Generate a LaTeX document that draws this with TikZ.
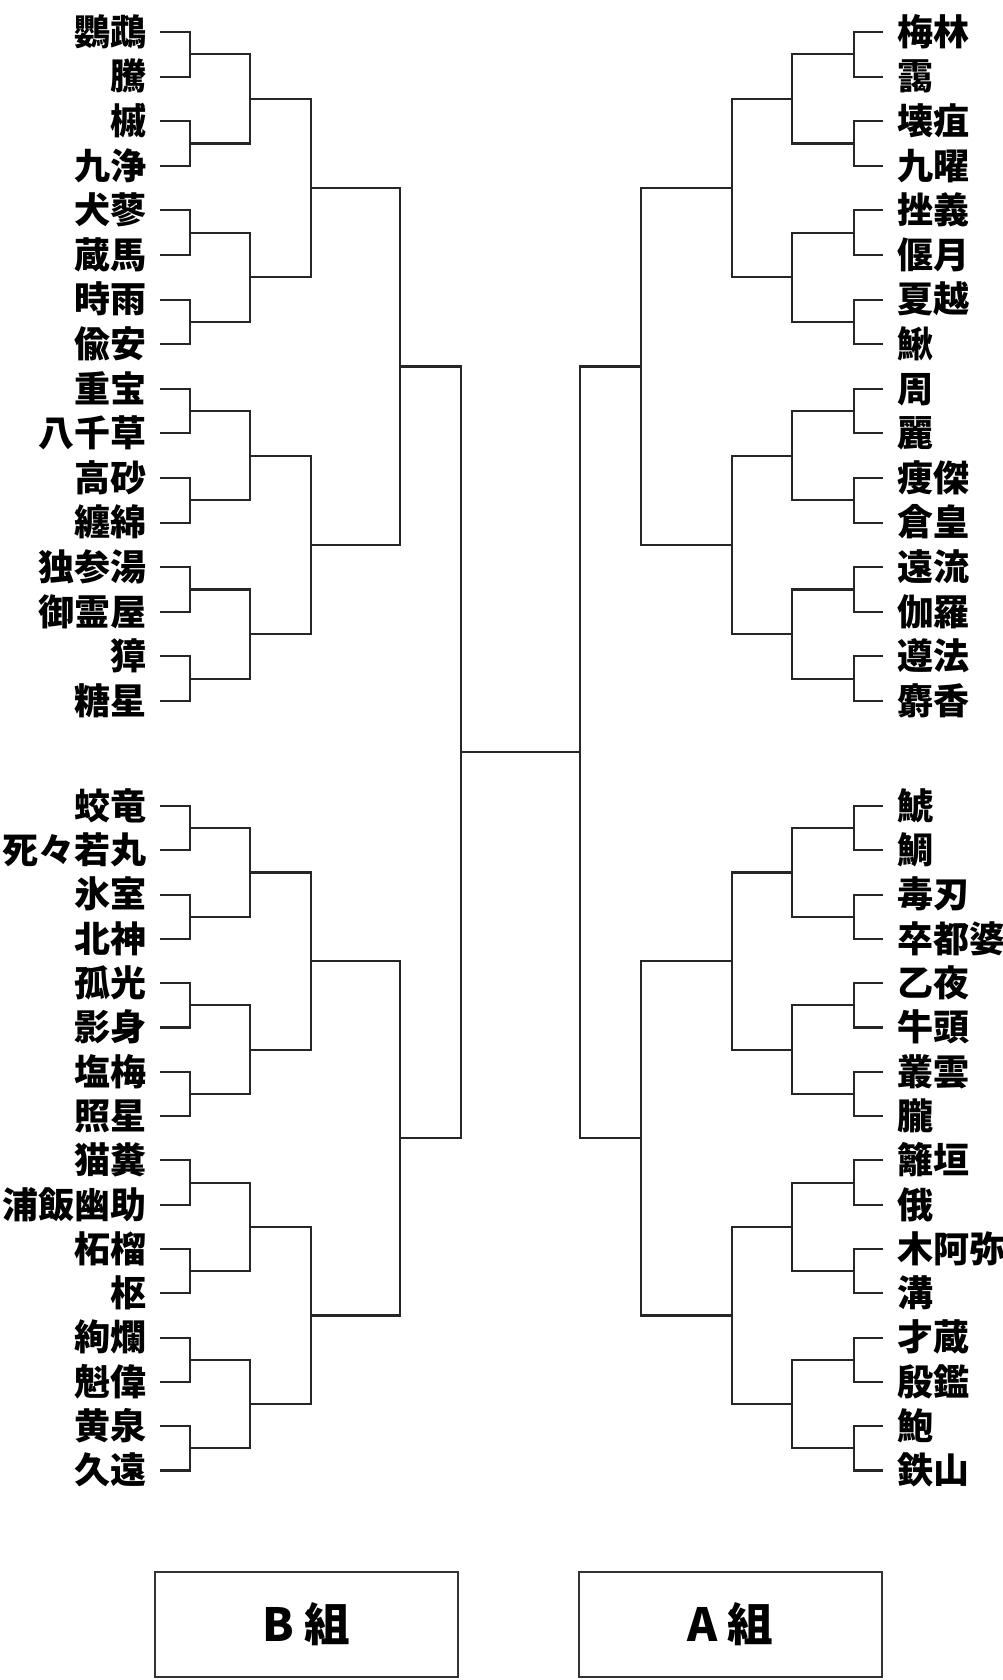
\documentclass[tikz,border=0pt]{standalone}
\usepackage{fontspec}
\usetikzlibrary{calc}
\IfFontExistsTF{Noto Sans CJK JP Black}
  {\newfontfamily\namefont{Noto Sans CJK JP Black}}
  {\IfFontExistsTF{Noto Sans CJK JP Bold}
    {\newfontfamily\namefont{Noto Sans CJK JP Bold}[FakeBold=2.5]}
    {\newfontfamily\namefont{Noto Sans CJK JP}[FakeBold=3.5]}}
\newfontfamily\groupfont{Noto Sans CJK JP}
\tikzset{
  bname/.style={anchor=east, inner xsep=0.26cm, inner ysep=0pt, text height=15.2pt, text depth=0pt, font=\namefont\fontsize{20.5}{20.5}\selectfont},
  aname/.style={anchor=west, inner xsep=0.28cm, inner ysep=0pt, text height=15.2pt, text depth=0pt, font=\namefont\fontsize{20.5}{20.5}\selectfont},
  bracket/.style={line width=1.2pt, draw=black!85},
  groupbox/.style={rectangle, draw=black!80, line width=0.8pt, minimum width=6.06cm, minimum height=2.1cm, font=\groupfont\bfseries\fontsize{26}{26}\selectfont}
}

\begin{document}
\begin{tikzpicture}[x=0.02cm, y=-0.02cm]
        \useasboundingbox (0,0) rectangle (1003,1680);

        % B group
        \node (b1) [bname] at (160,32) {鸚鵡};
        \node (b2) [bname] at (160,76.6) {騰};
        \node (b3) [bname] at (160,121.2) {槭};
        \node (b4) [bname] at (160,165.8) {九浄};
        \node (b5) [bname] at (160,210.4) {犬蓼};
        \node (b6) [bname] at (160,255) {蔵馬};
        \node (b7) [bname] at (160,299.6) {時雨};
        \node (b8) [bname] at (160,344.2) {偸安};
        \node (b9) [bname] at (160,388.8) {重宝};
        \node (b10) [bname] at (160,433.4) {八千草};
        \node (b11) [bname] at (160,478) {高砂};
        \node (b12) [bname] at (160,522.6) {纏綿};
        \node (b13) [bname] at (160,567.2) {独参湯};
        \node (b14) [bname] at (160,611.8) {御霊屋};
        \node (b15) [bname] at (160,656.4) {獐};
        \node (b16) [bname] at (160,701) {糖星};
        \node (b17) [bname] at (160,806) {蛟竜};
        \node (b18) [bname] at (160,850.3) {死々若丸};
        \node (b19) [bname] at (160,894.6) {氷室};
        \node (b20) [bname] at (160,938.9) {北神};
        \node (b21) [bname] at (160,983.2) {孤光};
        \node (b22) [bname] at (160,1027.5) {影身};
        \node (b23) [bname] at (160,1071.8) {塩梅};
        \node (b24) [bname] at (160,1116.1) {照星};
        \node (b25) [bname] at (160,1160.4) {猫糞};
        \node (b26) [bname] at (160,1204.7) {浦飯幽助};
        \node (b27) [bname] at (160,1249) {柘榴};
        \node (b28) [bname] at (160,1293.3) {枢};
        \node (b29) [bname] at (160,1337.6) {絢爛};
        \node (b30) [bname] at (160,1381.9) {魁偉};
        \node (b31) [bname] at (160,1426.2) {黄泉};
        \node (b32) [bname] at (160,1470.5) {久遠};

        % A group
        \node (a1) [aname] at (883,32) {梅林};
        \node (a2) [aname] at (883,76.6) {靄};
        \node (a3) [aname] at (883,121.2) {壊疽};
        \node (a4) [aname] at (883,165.8) {九曜};
        \node (a5) [aname] at (883,210.4) {挫義};
        \node (a6) [aname] at (883,255) {偃月};
        \node (a7) [aname] at (883,299.6) {夏越};
        \node (a8) [aname] at (883,344.2) {鰍};
        \node (a9) [aname] at (883,388.8) {周};
        \node (a10) [aname] at (883,433.4) {麗};
        \node (a11) [aname] at (883,478) {痩傑};
        \node (a12) [aname] at (883,522.6) {倉皇};
        \node (a13) [aname] at (883,567.2) {遠流};
        \node (a14) [aname] at (883,611.8) {伽羅};
        \node (a15) [aname] at (883,656.4) {遵法};
        \node (a16) [aname] at (883,701) {麝香};
        \node (a17) [aname] at (883,806) {鯱};
        \node (a18) [aname] at (883,850.3) {鯛};
        \node (a19) [aname] at (883,894.6) {毒刃};
        \node (a20) [aname] at (883,938.9) {卒都婆};
        \node (a21) [aname] at (883,983.2) {乙夜};
        \node (a22) [aname] at (883,1027.5) {牛頭};
        \node (a23) [aname] at (883,1071.8) {叢雲};
        \node (a24) [aname] at (883,1116.1) {朧};
        \node (a25) [aname] at (883,1160.4) {籬垣};
        \node (a26) [aname] at (883,1204.7) {俄};
        \node (a27) [aname] at (883,1249) {木阿弥};
        \node (a28) [aname] at (883,1293.3) {溝};
        \node (a29) [aname] at (883,1337.6) {才蔵};
        \node (a30) [aname] at (883,1381.9) {殷鑑};
        \node (a31) [aname] at (883,1426.2) {鮑};
        \node (a32) [aname] at (883,1470.5) {鉄山};

        % B group junctions
        \coordinate (bm1) at ($(b1.east)!.5!(b2.east)+(30,0)$);
        \coordinate (bm2) at ($(b3.east)!.5!(b4.east)+(30,0)$);
        \coordinate (bm3) at ($(b5.east)!.5!(b6.east)+(30,0)$);
        \coordinate (bm4) at ($(b7.east)!.5!(b8.east)+(30,0)$);
        \coordinate (bm5) at ($(b9.east)!.5!(b10.east)+(30,0)$);
        \coordinate (bm6) at ($(b11.east)!.5!(b12.east)+(30,0)$);
        \coordinate (bm7) at ($(b13.east)!.5!(b14.east)+(30,0)$);
        \coordinate (bm8) at ($(b15.east)!.5!(b16.east)+(30,0)$);
        \coordinate (bm9) at ($(b17.east)!.5!(b18.east)+(30,0)$);
        \coordinate (bm10) at ($(b19.east)!.5!(b20.east)+(30,0)$);
        \coordinate (bm11) at ($(b21.east)!.5!(b22.east)+(30,0)$);
        \coordinate (bm12) at ($(b23.east)!.5!(b24.east)+(30,0)$);
        \coordinate (bm13) at ($(b25.east)!.5!(b26.east)+(30,0)$);
        \coordinate (bm14) at ($(b27.east)!.5!(b28.east)+(30,0)$);
        \coordinate (bm15) at ($(b29.east)!.5!(b30.east)+(30,0)$);
        \coordinate (bm16) at ($(b31.east)!.5!(b32.east)+(30,0)$);
        \coordinate (bq1) at ($(bm1)!.5!(bm2)+(60,0)$);
        \coordinate (bq2) at ($(bm3)!.5!(bm4)+(60,0)$);
        \coordinate (bq3) at ($(bm5)!.5!(bm6)+(60,0)$);
        \coordinate (bq4) at ($(bm7)!.5!(bm8)+(60,0)$);
        \coordinate (bq5) at ($(bm9)!.5!(bm10)+(60,0)$);
        \coordinate (bq6) at ($(bm11)!.5!(bm12)+(60,0)$);
        \coordinate (bq7) at ($(bm13)!.5!(bm14)+(60,0)$);
        \coordinate (bq8) at ($(bm15)!.5!(bm16)+(60,0)$);
        \coordinate (bs1) at ($(bq1)!.5!(bq2)+(61,0)$);
        \coordinate (bs2) at ($(bq3)!.5!(bq4)+(61,0)$);
        \coordinate (bs3) at ($(bq5)!.5!(bq6)+(61,0)$);
        \coordinate (bs4) at ($(bq7)!.5!(bq8)+(61,0)$);
        \coordinate (bf1) at ($(bs1)!.5!(bs2)+(89,0)$);
        \coordinate (bf2) at ($(bs3)!.5!(bs4)+(89,0)$);
        \coordinate (bw) at ($(bf1)!.5!(bf2)+(61,0)$);

        % A group junctions
        \coordinate (am1) at ($(a1.west)!.5!(a2.west)+(-29,0)$);
        \coordinate (am2) at ($(a3.west)!.5!(a4.west)+(-29,0)$);
        \coordinate (am3) at ($(a5.west)!.5!(a6.west)+(-29,0)$);
        \coordinate (am4) at ($(a7.west)!.5!(a8.west)+(-29,0)$);
        \coordinate (am5) at ($(a9.west)!.5!(a10.west)+(-29,0)$);
        \coordinate (am6) at ($(a11.west)!.5!(a12.west)+(-29,0)$);
        \coordinate (am7) at ($(a13.west)!.5!(a14.west)+(-29,0)$);
        \coordinate (am8) at ($(a15.west)!.5!(a16.west)+(-29,0)$);
        \coordinate (am9) at ($(a17.west)!.5!(a18.west)+(-29,0)$);
        \coordinate (am10) at ($(a19.west)!.5!(a20.west)+(-29,0)$);
        \coordinate (am11) at ($(a21.west)!.5!(a22.west)+(-29,0)$);
        \coordinate (am12) at ($(a23.west)!.5!(a24.west)+(-29,0)$);
        \coordinate (am13) at ($(a25.west)!.5!(a26.west)+(-29,0)$);
        \coordinate (am14) at ($(a27.west)!.5!(a28.west)+(-29,0)$);
        \coordinate (am15) at ($(a29.west)!.5!(a30.west)+(-29,0)$);
        \coordinate (am16) at ($(a31.west)!.5!(a32.west)+(-29,0)$);
        \coordinate (aq1) at ($(am1)!.5!(am2)+(-62,0)$);
        \coordinate (aq2) at ($(am3)!.5!(am4)+(-62,0)$);
        \coordinate (aq3) at ($(am5)!.5!(am6)+(-62,0)$);
        \coordinate (aq4) at ($(am7)!.5!(am8)+(-62,0)$);
        \coordinate (aq5) at ($(am9)!.5!(am10)+(-62,0)$);
        \coordinate (aq6) at ($(am11)!.5!(am12)+(-62,0)$);
        \coordinate (aq7) at ($(am13)!.5!(am14)+(-62,0)$);
        \coordinate (aq8) at ($(am15)!.5!(am16)+(-62,0)$);
        \coordinate (as1) at ($(aq1)!.5!(aq2)+(-60,0)$);
        \coordinate (as2) at ($(aq3)!.5!(aq4)+(-60,0)$);
        \coordinate (as3) at ($(aq5)!.5!(aq6)+(-60,0)$);
        \coordinate (as4) at ($(aq7)!.5!(aq8)+(-60,0)$);
        \coordinate (af1) at ($(as1)!.5!(as2)+(-91,0)$);
        \coordinate (af2) at ($(as3)!.5!(as4)+(-91,0)$);
        \coordinate (aw) at ($(af1)!.5!(af2)+(-61,0)$);

        % B brackets
        \draw [bracket] (b1.east) -| (bm1) |- (b2.east);
        \draw [bracket] (b3.east) -| (bm2) |- (b4.east);
        \draw [bracket] (b5.east) -| (bm3) |- (b6.east);
        \draw [bracket] (b7.east) -| (bm4) |- (b8.east);
        \draw [bracket] (b9.east) -| (bm5) |- (b10.east);
        \draw [bracket] (b11.east) -| (bm6) |- (b12.east);
        \draw [bracket] (b13.east) -| (bm7) |- (b14.east);
        \draw [bracket] (b15.east) -| (bm8) |- (b16.east);
        \draw [bracket] (b17.east) -| (bm9) |- (b18.east);
        \draw [bracket] (b19.east) -| (bm10) |- (b20.east);
        \draw [bracket] (b21.east) -| (bm11) |- (b22.east);
        \draw [bracket] (b23.east) -| (bm12) |- (b24.east);
        \draw [bracket] (b25.east) -| (bm13) |- (b26.east);
        \draw [bracket] (b27.east) -| (bm14) |- (b28.east);
        \draw [bracket] (b29.east) -| (bm15) |- (b30.east);
        \draw [bracket] (b31.east) -| (bm16) |- (b32.east);
        \draw [bracket] (bm1) -| (bq1) |- (bm2);
        \draw [bracket] (bm3) -| (bq2) |- (bm4);
        \draw [bracket] (bm5) -| (bq3) |- (bm6);
        \draw [bracket] (bm7) -| (bq4) |- (bm8);
        \draw [bracket] (bm9) -| (bq5) |- (bm10);
        \draw [bracket] (bm11) -| (bq6) |- (bm12);
        \draw [bracket] (bm13) -| (bq7) |- (bm14);
        \draw [bracket] (bm15) -| (bq8) |- (bm16);
        \draw [bracket] (bq1) -| (bs1) |- (bq2);
        \draw [bracket] (bq3) -| (bs2) |- (bq4);
        \draw [bracket] (bq5) -| (bs3) |- (bq6);
        \draw [bracket] (bq7) -| (bs4) |- (bq8);
        \draw [bracket] (bs1) -| (bf1) |- (bs2);
        \draw [bracket] (bs3) -| (bf2) |- (bs4);
        \draw [bracket] (bf1) -| (bw) |- (bf2);

        % A brackets
        \draw [bracket] (a1.west) -| (am1) |- (a2.west);
        \draw [bracket] (a3.west) -| (am2) |- (a4.west);
        \draw [bracket] (a5.west) -| (am3) |- (a6.west);
        \draw [bracket] (a7.west) -| (am4) |- (a8.west);
        \draw [bracket] (a9.west) -| (am5) |- (a10.west);
        \draw [bracket] (a11.west) -| (am6) |- (a12.west);
        \draw [bracket] (a13.west) -| (am7) |- (a14.west);
        \draw [bracket] (a15.west) -| (am8) |- (a16.west);
        \draw [bracket] (a17.west) -| (am9) |- (a18.west);
        \draw [bracket] (a19.west) -| (am10) |- (a20.west);
        \draw [bracket] (a21.west) -| (am11) |- (a22.west);
        \draw [bracket] (a23.west) -| (am12) |- (a24.west);
        \draw [bracket] (a25.west) -| (am13) |- (a26.west);
        \draw [bracket] (a27.west) -| (am14) |- (a28.west);
        \draw [bracket] (a29.west) -| (am15) |- (a30.west);
        \draw [bracket] (a31.west) -| (am16) |- (a32.west);
        \draw [bracket] (am1) -| (aq1) |- (am2);
        \draw [bracket] (am3) -| (aq2) |- (am4);
        \draw [bracket] (am5) -| (aq3) |- (am6);
        \draw [bracket] (am7) -| (aq4) |- (am8);
        \draw [bracket] (am9) -| (aq5) |- (am10);
        \draw [bracket] (am11) -| (aq6) |- (am12);
        \draw [bracket] (am13) -| (aq7) |- (am14);
        \draw [bracket] (am15) -| (aq8) |- (am16);
        \draw [bracket] (aq1) -| (as1) |- (aq2);
        \draw [bracket] (aq3) -| (as2) |- (aq4);
        \draw [bracket] (aq5) -| (as3) |- (aq6);
        \draw [bracket] (aq7) -| (as4) |- (aq8);
        \draw [bracket] (as1) -| (af1) |- (as2);
        \draw [bracket] (as3) -| (af2) |- (as4);
        \draw [bracket] (af1) -| (aw) |- (af2);

        % final
        \draw [bracket] (bw) -- (aw);

        % group labels
        \node (bgroup) [groupbox] at (306.5,1624.5) {B 組};
        \node (agroup) [groupbox] at (730.5,1624.5) {A 組};
    \end{tikzpicture}
\end{document}
